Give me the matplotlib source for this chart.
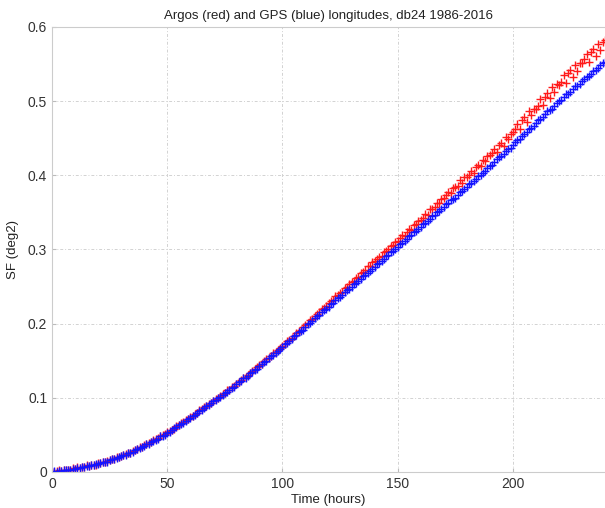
import numpy as np
import matplotlib
matplotlib.use("Agg")
import matplotlib.pyplot as plt

# time axis, hourly
hours = list(range(0, 241))

# GPS (blue) structure function
sf_gps = [
    0.000, 0.001, 0.000, 0.001, 0.001, 0.002, 0.002, 0.002, 0.003, 0.004,
    0.004, 0.005, 0.005, 0.007, 0.006, 0.008, 0.008, 0.009, 0.009, 0.011,
    0.011, 0.012, 0.013, 0.013, 0.014, 0.016, 0.017, 0.017, 0.019, 0.020,
    0.021, 0.023, 0.023, 0.025, 0.026, 0.027, 0.029, 0.031, 0.032, 0.033,
    0.035, 0.037, 0.038, 0.040, 0.042, 0.043, 0.045, 0.048, 0.049, 0.050,
    0.053, 0.054, 0.056, 0.059, 0.060, 0.063, 0.065, 0.066, 0.069, 0.071,
    0.073, 0.075, 0.077, 0.080, 0.082, 0.083, 0.086, 0.089, 0.090, 0.093,
    0.095, 0.097, 0.100, 0.101, 0.104, 0.107, 0.108, 0.111, 0.113, 0.115,
    0.118, 0.121, 0.122, 0.126, 0.127, 0.130, 0.133, 0.135, 0.138, 0.139,
    0.143, 0.145, 0.148, 0.150, 0.153, 0.156, 0.158, 0.161, 0.163, 0.166,
    0.168, 0.172, 0.174, 0.176, 0.179, 0.183, 0.184, 0.188, 0.190, 0.192,
    0.196, 0.199, 0.201, 0.203, 0.207, 0.210, 0.212, 0.216, 0.218, 0.220,
    0.223, 0.227, 0.228, 0.232, 0.234, 0.236, 0.239, 0.243, 0.245, 0.247,
    0.250, 0.253, 0.255, 0.258, 0.260, 0.264, 0.266, 0.268, 0.271, 0.274,
    0.276, 0.280, 0.282, 0.284, 0.287, 0.291, 0.292, 0.296, 0.298, 0.300,
    0.303, 0.307, 0.308, 0.311, 0.314, 0.318, 0.319, 0.323, 0.325, 0.327,
    0.330, 0.334, 0.335, 0.338, 0.341, 0.345, 0.346, 0.350, 0.352, 0.354,
    0.357, 0.361, 0.362, 0.366, 0.368, 0.370, 0.373, 0.377, 0.379, 0.381,
    0.384, 0.388, 0.390, 0.392, 0.395, 0.399, 0.401, 0.403, 0.406, 0.410,
    0.412, 0.414, 0.418, 0.422, 0.424, 0.426, 0.429, 0.433, 0.435, 0.437,
    0.441, 0.445, 0.447, 0.449, 0.453, 0.456, 0.458, 0.462, 0.464, 0.466,
    0.470, 0.474, 0.476, 0.478, 0.482, 0.486, 0.488, 0.490, 0.494, 0.498,
    0.500, 0.502, 0.505, 0.509, 0.510, 0.512, 0.516, 0.520, 0.521, 0.523,
    0.527, 0.530, 0.532, 0.534, 0.537, 0.541, 0.542, 0.544, 0.548, 0.551,
    0.553,
]

# Argos (red) structure function
sf_argos = [
    0.000, 0.000, 0.001, 0.002, 0.001, 0.002, 0.003, 0.003, 0.003, 0.005,
    0.004, 0.006, 0.005, 0.006, 0.007, 0.009, 0.008, 0.010, 0.010, 0.010,
    0.012, 0.012, 0.014, 0.013, 0.015, 0.016, 0.018, 0.017, 0.020, 0.020,
    0.022, 0.023, 0.024, 0.026, 0.026, 0.028, 0.030, 0.031, 0.033, 0.033,
    0.036, 0.037, 0.039, 0.040, 0.043, 0.044, 0.046, 0.048, 0.050, 0.051,
    0.054, 0.055, 0.057, 0.058, 0.062, 0.063, 0.066, 0.067, 0.070, 0.071,
    0.074, 0.076, 0.078, 0.080, 0.083, 0.085, 0.087, 0.089, 0.092, 0.093,
    0.096, 0.098, 0.100, 0.102, 0.105, 0.106, 0.110, 0.111, 0.114, 0.116,
    0.119, 0.121, 0.124, 0.126, 0.128, 0.131, 0.134, 0.136, 0.139, 0.141,
    0.144, 0.146, 0.149, 0.152, 0.154, 0.156, 0.160, 0.162, 0.165, 0.167,
    0.170, 0.173, 0.176, 0.178, 0.181, 0.183, 0.187, 0.190, 0.192, 0.196,
    0.198, 0.201, 0.205, 0.206, 0.210, 0.213, 0.215, 0.220, 0.221, 0.224,
    0.228, 0.230, 0.232, 0.237, 0.238, 0.241, 0.243, 0.248, 0.249, 0.253,
    0.256, 0.258, 0.262, 0.263, 0.268, 0.270, 0.272, 0.277, 0.278, 0.283,
    0.284, 0.287, 0.290, 0.291, 0.297, 0.298, 0.300, 0.305, 0.306, 0.310,
    0.312, 0.315, 0.319, 0.318, 0.323, 0.328, 0.326, 0.333, 0.334, 0.339,
    0.340, 0.343, 0.348, 0.346, 0.354, 0.355, 0.357, 0.363, 0.362, 0.368,
    0.369, 0.374, 0.377, 0.376, 0.383, 0.384, 0.386, 0.393, 0.390, 0.397,
    0.398, 0.401, 0.406, 0.403, 0.411, 0.414, 0.412, 0.421, 0.419, 0.426,
    0.427, 0.430, 0.436, 0.432, 0.441, 0.444, 0.440, 0.452, 0.449, 0.456,
    0.458, 0.462, 0.469, 0.463, 0.474, 0.478, 0.472, 0.486, 0.481, 0.489,
    0.490, 0.494, 0.503, 0.495, 0.506, 0.511, 0.504, 0.519, 0.512, 0.523,
    0.522, 0.526, 0.535, 0.525, 0.538, 0.542, 0.533, 0.549, 0.541, 0.552,
    0.551, 0.557, 0.563, 0.553, 0.566, 0.570, 0.561, 0.577, 0.569, 0.580,
    0.583,
]

x_ticks = [0, 50, 100, 150, 200]
y_ticks = [0, 0.1, 0.2, 0.3, 0.4, 0.5, 0.6]
y_tick_labels = ["0", "0.1", "0.2", "0.3", "0.4", "0.5", "0.6"]

plt.rcParams["font.family"] = ["Liberation Sans", "DejaVu Sans"]

fig = plt.figure(figsize=(6.05, 5.08), dpi=100)
ax = fig.add_axes([0.086, 0.071, 0.914, 0.876])

# Argos first, GPS drawn on top of it
ax.plot(hours, sf_argos, linestyle="none", marker="+", color="#ff1a1a",
        markersize=5.5, markeredgewidth=1.0)
ax.plot(hours, sf_gps, linestyle="none", marker="+", color="#1414ff",
        markersize=5.5, markeredgewidth=1.0)

ax.set_xlim(0, 240)
ax.set_ylim(0, 0.6)
ax.set_xticks(x_ticks)
ax.set_yticks(y_ticks)
ax.set_yticklabels(y_tick_labels)

ax.grid(True, linestyle=(0, (3, 2, 1, 2)), color="#d2d2d2", linewidth=0.7)
ax.tick_params(direction="in", length=3, color="#bbbbbb", labelsize=10,
               labelcolor="#333333")
for side in ["left", "bottom", "top"]:
    ax.spines[side].set_color("#cccccc")
ax.spines["right"].set_visible(False)

ax.set_xlabel("Time (hours)", fontsize=9.5, color="#222222", labelpad=2)
ax.set_ylabel("SF (deg2)", fontsize=9.5, color="#222222", labelpad=6)
ax.set_title("Argos (red) and GPS (blue) longitudes, db24 1986-2016",
             fontsize=9.5, color="#222222", pad=6)

fig.savefig("out.png", dpi=100)
